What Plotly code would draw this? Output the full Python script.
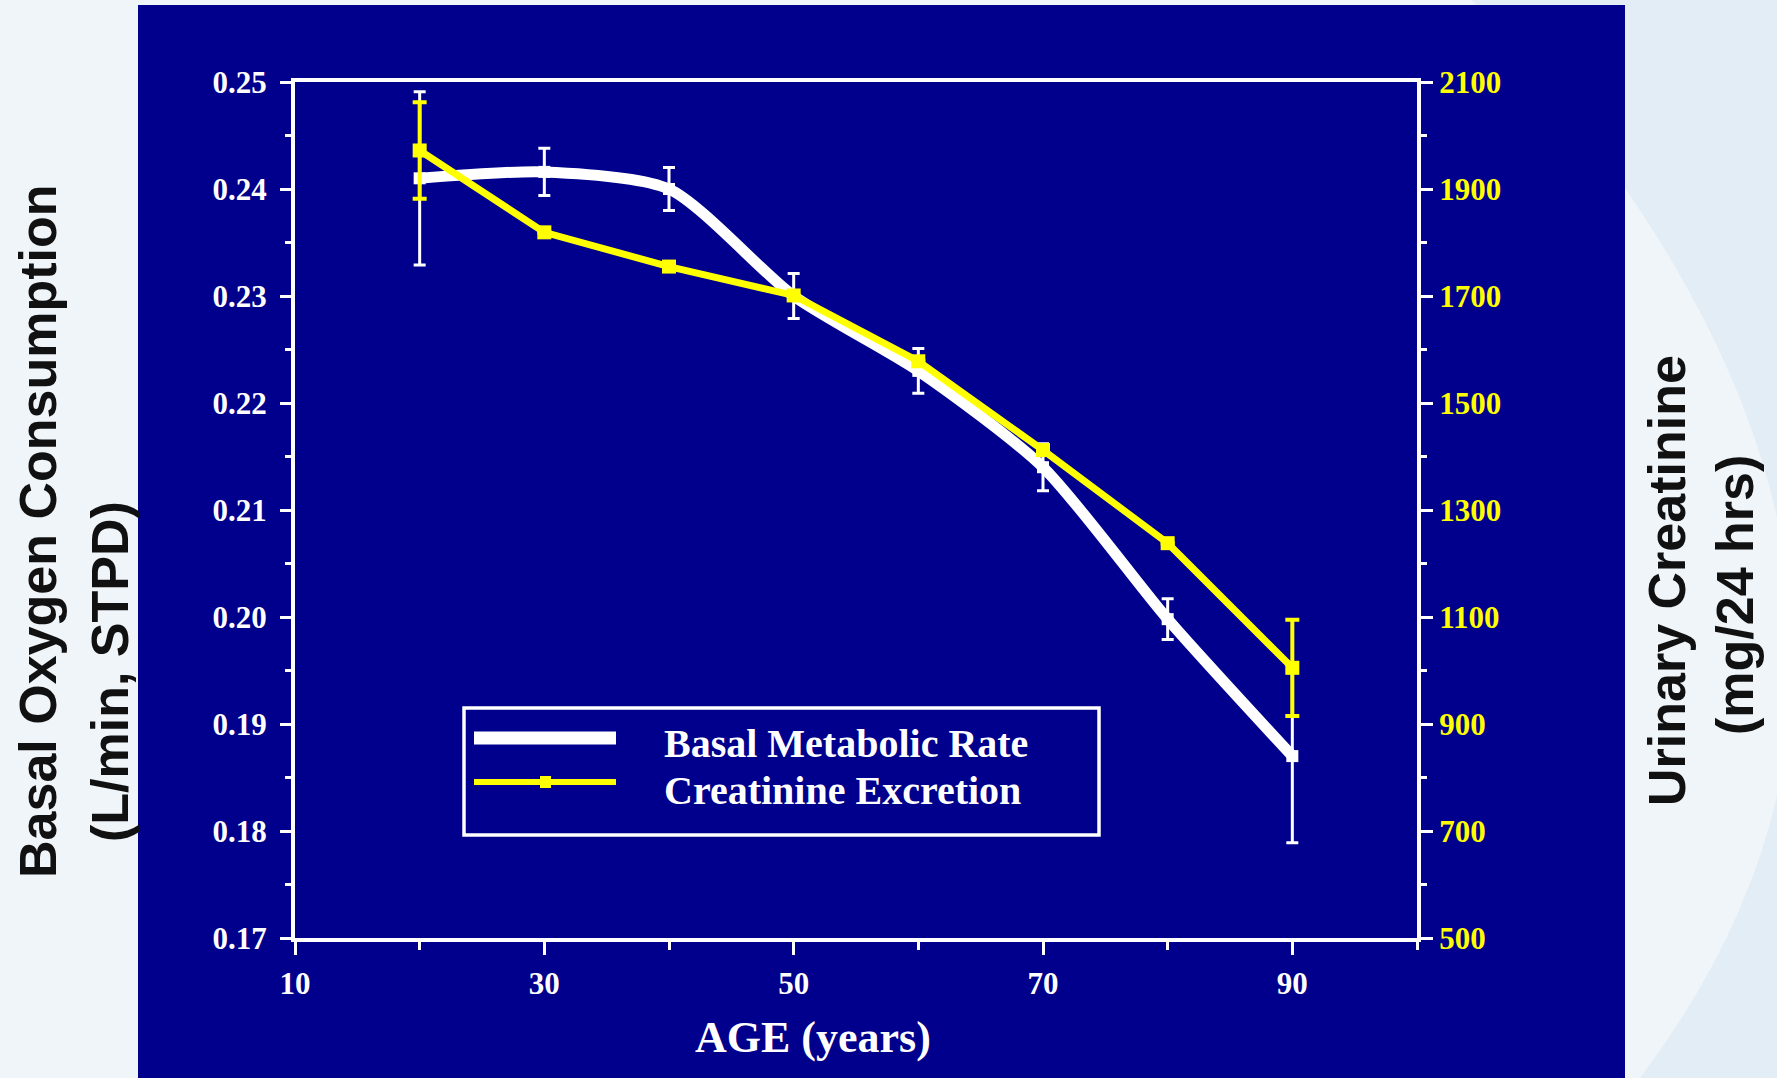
import plotly.graph_objects as go

# ---------------- data ----------------
ages = [20, 30, 40, 50, 60, 70, 80, 90]
bmr = [0.2410, 0.2416, 0.2400, 0.2300, 0.2230, 0.2140, 0.1998, 0.1870]
bmr_err = [0.0081, 0.0022, 0.0020, 0.0021, 0.0021, 0.0022, 0.0019, 0.0081]
creat = [1972, 1819, 1755, 1701, 1578, 1412, 1238, 1005]
creat_err = [90, None, None, None, None, None, None, 90]

x_ticks = [10, 30, 50, 70, 90]
y_ticks = [0.17, 0.18, 0.19, 0.20, 0.21, 0.22, 0.23, 0.24, 0.25]
y_ticklabels = ["0.17", "0.18", "0.19", "0.20", "0.21", "0.22", "0.23", "0.24", "0.25"]
y2_ticks = [500, 700, 900, 1100, 1300, 1500, 1700, 1900, 2100]

series_names = ["Basal Metabolic Rate", "Creatinine Excretion"]
x_title = "AGE (years)"
y_title = ["Basal Oxygen Consumption", "(L/min, STPD)"]
y2_title = ["Urinary Creatinine", "(mg/24 hrs)"]

# ---------------- geometry ----------------
W, H = 1777, 1078
ML, MT, PW, PH = 295, 82, 1122, 856
MR = W - ML - PW
MB = H - MT - PH


def px(x):
    return (x - ML) / PW


def py(y):
    return (MT + PH - y) / PH


BLUE = "#00008C"
WHITE = "#FFFFFF"
YELLOW = "#FFFF00"
SERIF = "Liberation Serif"
SANS = "Liberation Sans"

fig = go.Figure()

fig.add_trace(go.Scatter(
    x=ages, y=bmr, name=series_names[0], mode="lines+markers",
    line=dict(color=WHITE, width=11, shape="spline", smoothing=0.7),
    marker=dict(color=WHITE, size=12, symbol="square"),
    error_y=dict(type="data", array=bmr_err, visible=True, color=WHITE,
                 thickness=3, width=6),
    showlegend=False, yaxis="y",
))

fig.add_trace(go.Scatter(
    x=ages, y=creat, name=series_names[1], mode="lines+markers",
    line=dict(color=YELLOW, width=7),
    marker=dict(color=YELLOW, size=14, symbol="square"),
    error_y=dict(type="data", array=creat_err, visible=True, color=YELLOW,
                 thickness=4, width=7),
    showlegend=False, yaxis="y2",
))

tickfont_w = dict(family=SERIF, size=31, color=WHITE, weight="bold")
tickfont_y = dict(family=SERIF, size=31, color=YELLOW, weight="bold")

# background path (light disc on the left, darker right edge)
bg_path = (f"M {px(-20)},{py(-20)} L {px(1472)},{py(-20)} L {px(1472)},{py(0)} "
           f"Q {px(2014)},{py(581)} {px(1640)},{py(1078)} "
           f"L {px(1640)},{py(1100)} L {px(-20)},{py(1100)} Z")

shapes = [
    dict(type="path", xref="paper", yref="paper", path=bg_path,
         fillcolor="#F0F5FA", line=dict(width=0), layer="below"),
    dict(type="rect", xref="paper", yref="paper",
         x0=px(138), x1=px(1625), y0=py(5), y1=py(1090),
         fillcolor=BLUE, line=dict(width=0), layer="below"),
    # legend box
    dict(type="rect", xref="paper", yref="paper",
         x0=px(464), x1=px(1099), y0=py(835), y1=py(708),
         line=dict(color=WHITE, width=3.5), fillcolor=BLUE, layer="above"),
    dict(type="line", xref="paper", yref="paper",
         x0=px(474), x1=px(616), y0=py(738), y1=py(738),
         line=dict(color=WHITE, width=13)),
    dict(type="line", xref="paper", yref="paper",
         x0=px(474), x1=px(616), y0=py(782), y1=py(782),
         line=dict(color=YELLOW, width=6)),
    dict(type="rect", xref="paper", yref="paper",
         x0=px(540), x1=px(551), y0=py(788), y1=py(776),
         fillcolor=YELLOW, line=dict(width=0)),
]

legend_font = dict(family=SERIF, size=40, color=WHITE, weight="bold")
title_font = dict(family=SANS, size=52, color="#111111", weight="bold")

annotations = [
    dict(text=series_names[0], xref="paper", yref="paper", x=px(662), y=py(743),
         xanchor="left", yanchor="middle", showarrow=False, font=legend_font),
    dict(text=series_names[1], xref="paper", yref="paper", x=px(662), y=py(790),
         xanchor="left", yanchor="middle", showarrow=False, font=legend_font),
    dict(text=x_title, xref="paper", yref="paper", x=px(813), y=py(1037),
         xanchor="center", yanchor="middle", showarrow=False,
         font=dict(family=SERIF, size=44, color=WHITE, weight="bold")),
    dict(text=y_title[0], xref="paper", yref="paper", x=px(38), y=py(532),
         xanchor="center", yanchor="middle", showarrow=False, textangle=-90,
         font=title_font),
    dict(text=y_title[1], xref="paper", yref="paper", x=px(110), y=py(672),
         xanchor="center", yanchor="middle", showarrow=False, textangle=-90,
         font=title_font),
    dict(text=y2_title[0], xref="paper", yref="paper", x=px(1667), y=py(581),
         xanchor="center", yanchor="middle", showarrow=False, textangle=-90,
         font=title_font),
    dict(text=y2_title[1], xref="paper", yref="paper", x=px(1735), y=py(595),
         xanchor="center", yanchor="middle", showarrow=False, textangle=-90,
         font=title_font),
]

fig.update_layout(
    width=W, height=H,
    margin=dict(l=ML, r=MR, t=MT, b=MB, pad=0),
    paper_bgcolor="#E3EDF5",
    plot_bgcolor=BLUE,
    shapes=shapes,
    annotations=annotations,
    xaxis=dict(
        range=[10, 100], showgrid=False, zeroline=False,
        showline=True, linecolor=WHITE, linewidth=4, mirror=True,
        ticks="outside", tickvals=x_ticks, ticktext=[str(v) for v in x_ticks],
        ticklen=13, tickwidth=3, tickcolor=WHITE,
        minor=dict(tick0=10, dtick=10, ticks="outside", ticklen=8,
                   tickwidth=3, tickcolor=WHITE, showgrid=False),
        tickfont=tickfont_w, ticklabelstandoff=2, automargin=False,
    ),
    yaxis=dict(
        range=[0.17, 0.25], showgrid=False, zeroline=False,
        showline=True, linecolor=WHITE, linewidth=4,
        ticks="outside", tickvals=y_ticks, ticktext=y_ticklabels,
        ticklen=11, tickwidth=3, tickcolor=WHITE,
        minor=dict(tick0=0.17, dtick=0.005, ticks="outside", ticklen=6,
                   tickwidth=3, tickcolor=WHITE, showgrid=False),
        tickfont=tickfont_w, ticklabelstandoff=7, automargin=False,
    ),
    yaxis2=dict(
        range=[500, 2100], overlaying="y", side="right",
        showgrid=False, zeroline=False,
        showline=True, linecolor=WHITE, linewidth=4,
        ticks="outside", tickvals=y2_ticks, ticktext=[str(v) for v in y2_ticks],
        ticklen=12, tickwidth=3, tickcolor=WHITE,
        minor=dict(tick0=500, dtick=100, ticks="outside", ticklen=6,
                   tickwidth=3, tickcolor=WHITE, showgrid=False),
        tickfont=tickfont_y, ticklabelstandoff=0, automargin=False,
    ),
)

fig.write_html("out.html")
